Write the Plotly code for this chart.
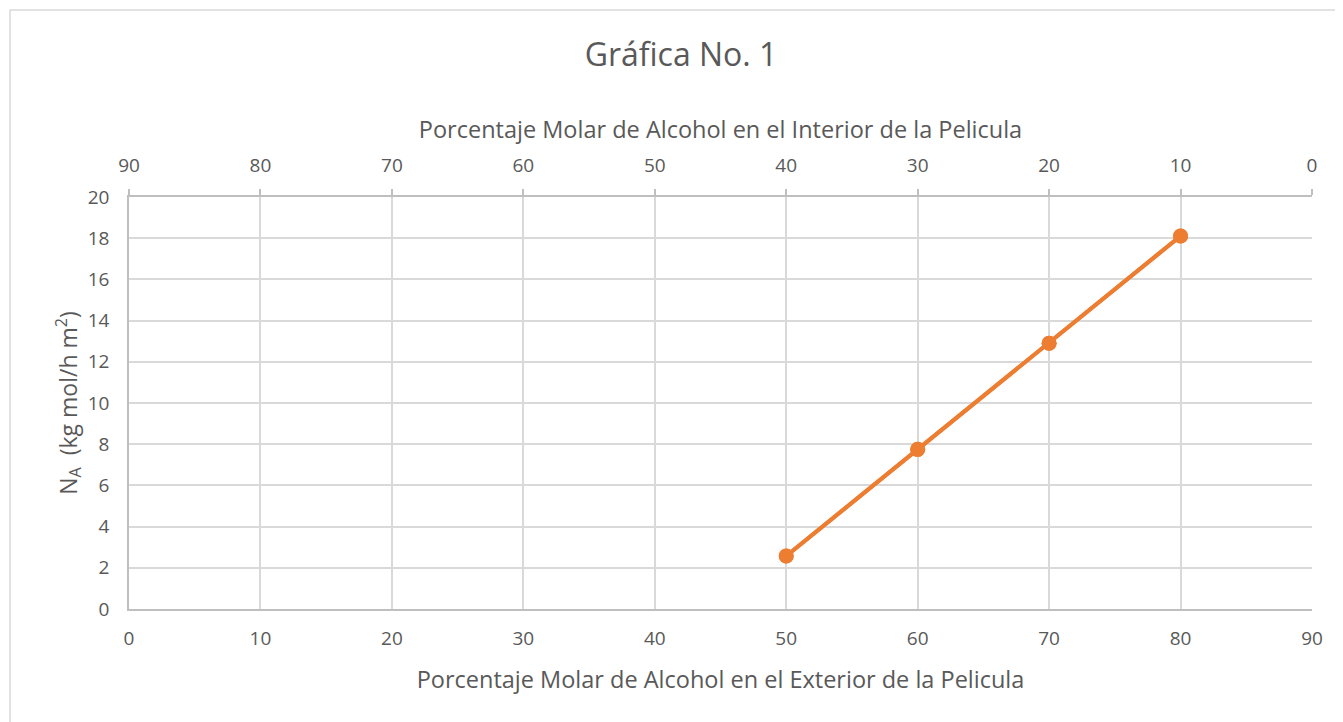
import plotly.graph_objects as go

exterior = [50, 60, 70, 80]
interior = [40, 30, 20, 10]
na_values = [2.57, 7.75, 12.9, 18.11]

title_text = "Gráfica No. 1"
x_title = "Porcentaje Molar de Alcohol en el Exterior de la Pelicula"
x2_title = "Porcentaje Molar de Alcohol en el Interior de la Pelicula"
y_title = "N<sub>A</sub>  (kg mol/h m<sup>2</sup>)"

orange = "#ED7D31"
grid = "#D9D9D9"
axis_col = "#BFBFBF"
text_col = "#595959"
font_family = "Open Sans, Liberation Sans, sans-serif"

# page body has an 8px default margin; compensate
L, T, R, B = 121, 189, 39, 121

fig = go.Figure()
fig.add_trace(go.Scatter(
    x=interior, y=na_values, xaxis="x2", yaxis="y",
    mode="lines+markers",
    line=dict(color=orange, width=4),
    marker=dict(color=orange, size=15),
    showlegend=False, hoverinfo="skip",
))
fig.add_trace(go.Scatter(
    x=exterior, y=na_values, xaxis="x", yaxis="y",
    mode="lines+markers",
    line=dict(color=orange, width=4),
    marker=dict(color=orange, size=15),
    showlegend=False,
))

fig.update_layout(
    width=1343, height=722,
    paper_bgcolor="white", plot_bgcolor="white",
    margin=dict(l=L, r=R, t=T, b=B),
    font=dict(family=font_family, color=text_col, size=19),
    title=dict(text=title_text, x=(681 - 8) / 1343, xanchor="center",
               y=1 - 47 / 722, yanchor="middle", yref="container",
               font=dict(size=32, color=text_col, family=font_family)),
    xaxis=dict(
        range=[0, 90], dtick=10, tick0=0,
        showgrid=True, gridcolor=grid, gridwidth=1.5,
        showline=True, linecolor=axis_col, linewidth=1.5,
        ticks="", zeroline=False, mirror=False,
        ticklabelstandoff=11,
        tickfont=dict(size=19, color=text_col),
        title=dict(text=x_title, font=dict(size=23.5, color=text_col), standoff=22),
    ),
    xaxis2=dict(
        range=[90, 0], dtick=10, tick0=0,
        overlaying="x", side="top", anchor="y",
        showgrid=False, showline=True, linecolor=axis_col, linewidth=1.5,
        ticks="outside", ticklen=6, tickcolor=axis_col, tickwidth=1.5,
        zeroline=False,
        ticklabelstandoff=10,
        tickfont=dict(size=19, color=text_col),
        title=dict(text=x2_title, font=dict(size=23.5, color=text_col), standoff=6),
    ),
    yaxis=dict(
        range=[0, 20], dtick=2, tick0=0,
        showgrid=True, gridcolor=grid, gridwidth=1.5,
        showline=True, linecolor=axis_col, linewidth=1.5,
        ticks="", zeroline=False,
        ticklabelstandoff=14,
        tickfont=dict(size=19, color=text_col),
        title=dict(text=y_title, font=dict(size=23, color=text_col), standoff=4),
    ),
)

fig.add_shape(type="rect", xref="paper", yref="paper",
              x0=-119/1183, x1=1.05, y0=-0.4, y1=1 + 187/412,
              line=dict(color="#D9D9D9", width=1.5), fillcolor="rgba(0,0,0,0)",
              layer="below")

fig.write_html("out.html")
